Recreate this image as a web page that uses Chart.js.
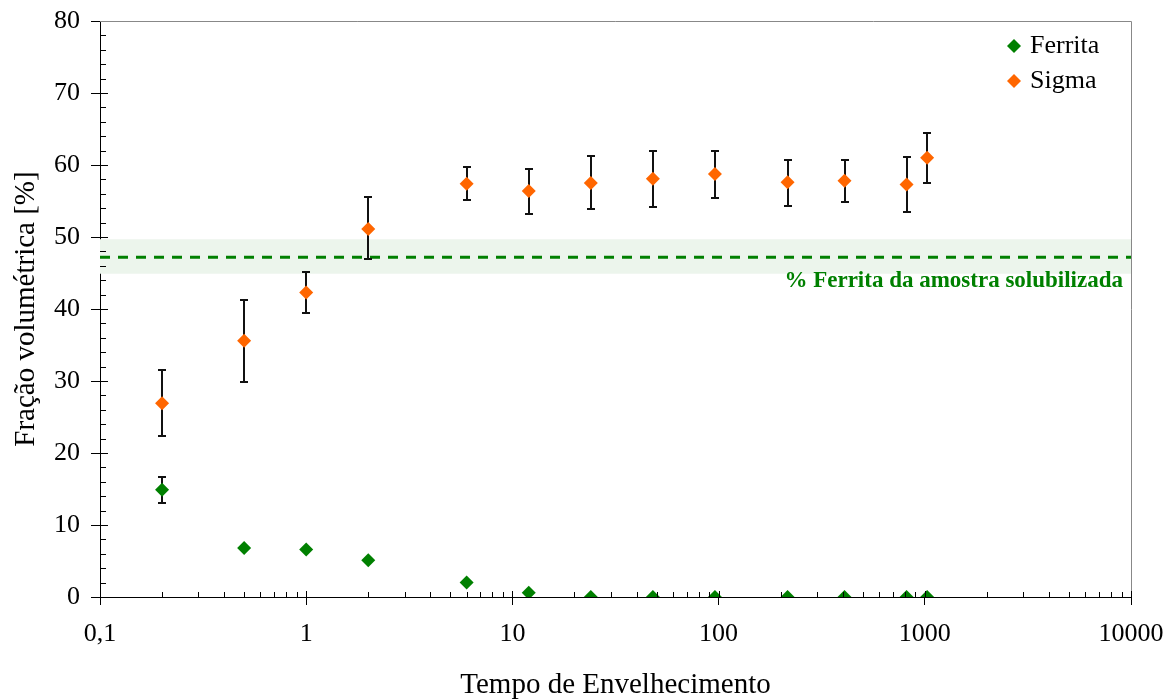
<!DOCTYPE html>
<html>
<head>
<meta charset="utf-8">
<script src="https://cdn.jsdelivr.net/npm/chart.js@4.4.1/dist/chart.umd.min.js"></script>
<style>
	html, body { margin: 0; padding: 0; background: #fff; }
	.chart-box { position: relative; width: 1175px; height: 700px; }
</style>
</head>
<body>
<div class="chart-box"><canvas id="fases"></canvas></div>
<script>
// Aging times (h) of the samples
const times = [0.2, 0.5, 1, 2, 6, 12, 24, 48, 96, 216, 408, 816, 1026];

// Ferrite fraction [%] and its error bar limits
const ferrita = [14.9, 6.8, 6.6, 5.1, 2.0, 0.6, 0, 0, 0, 0, 0, 0, 0];
const ferritaHigh = [16.7, null, null, null, null, null, null, null, null, null, null, null, null];
const ferritaLow = [13.0, null, null, null, null, null, null, null, null, null, null, null, null];

// Sigma fraction [%] and its error bar limits
const sigma = [26.9, 35.6, 42.3, 51.1, 57.4, 56.4, 57.5, 58.1, 58.75, 57.6, 57.8, 57.3, 61.0];
const sigmaHigh = [31.5, 41.3, 45.2, 55.5, 59.7, 59.4, 61.25, 62.0, 61.9, 60.65, 60.7, 61.1, 64.5];
const sigmaLow = [22.3, 29.9, 39.5, 46.9, 55.1, 53.2, 53.85, 54.2, 55.4, 54.3, 54.9, 53.5, 57.5];

// Ferrite of the solution annealed sample (mean and band)
const refRange = [0.1, 10000];
const refFerrita = 47.2;
const refLow = 44.9;
const refHigh = 49.7;
const refLabel = '% Ferrita da amostra solubilizada';

// Axis ticks
const xTickValues = [0.1, 1, 10, 100, 1000, 10000];
const xTickLabels = ['0,1', '1', '10', '100', '1000', '10000'];

const serif = "'Liberation Serif', 'Times New Roman', serif";
const green = '#008000';
const orange = '#ff6600';

// Shorthand to turn two arrays into points
const pts = (xs, ys) => xs.map((x, i) => ({ x: x, y: ys[i] }));
const flat = (v) => refRange.map((x) => ({ x: x, y: v }));

// Error bars, drawn just before the series they belong to
const errorBars = {
	id: 'errorBars',
	beforeDatasetDraw(chart, args) {
		let bars = null;
		if (args.index === 0) bars = [ferritaLow, ferritaHigh];
		if (args.index === 1) bars = [sigmaLow, sigmaHigh];
		if (!bars) return;
		const ctx = chart.ctx;
		const sx = chart.scales.x;
		const sy = chart.scales.y;
		ctx.save();
		ctx.strokeStyle = '#111';
		ctx.lineWidth = 2;
		times.forEach((t, i) => {
			if (bars[0][i] === null) return;
			const px = Math.round(sx.getPixelForValue(t));
			const lo = Math.round(sy.getPixelForValue(bars[0][i]));
			const hi = Math.round(sy.getPixelForValue(bars[1][i]));
			ctx.beginPath();
			ctx.moveTo(px, lo);
			ctx.lineTo(px, hi);
			ctx.moveTo(px - 4, lo);
			ctx.lineTo(px + 4, lo);
			ctx.moveTo(px - 4, hi);
			ctx.lineTo(px + 4, hi);
			ctx.stroke();
		});
		ctx.restore();
	}
};

// Inner tick marks, frame, legend and the reference label
const decorations = {
	id: 'decorations',
	afterDraw(chart) {
		const ctx = chart.ctx;
		const a = chart.chartArea;
		const sx = chart.scales.x;
		const sy = chart.scales.y;
		ctx.save();

		// grey frame on top and right
		ctx.strokeStyle = '#888';
		ctx.lineWidth = 1;
		ctx.beginPath();
		ctx.moveTo(a.left, a.top + 0.5);
		ctx.lineTo(a.right + 0.5, a.top + 0.5);
		ctx.lineTo(a.right + 0.5, a.bottom);
		ctx.stroke();

		// tick marks inside the plot
		ctx.strokeStyle = '#000';
		ctx.beginPath();
		for (let v = 2; v < 80; v += 2) {
			const py = Math.round(sy.getPixelForValue(v)) + 0.5;
			ctx.moveTo(a.left, py);
			ctx.lineTo(a.left + (v % 10 === 0 ? 8 : 6), py);
		}
		xTickValues.forEach((d) => {
			const steps = d === 10000 ? 1 : 9;
			for (let m = 1; m <= steps; m++) {
				const px = Math.round(sx.getPixelForValue(d * m)) + 0.5;
				ctx.moveTo(px, a.bottom);
				ctx.lineTo(px, a.bottom - (m === 1 ? 6 : 5));
			}
		});
		ctx.stroke();

		// legend
		ctx.font = '26px ' + serif;
		ctx.textAlign = 'left';
		ctx.textBaseline = 'middle';
		[0, 1].forEach((i) => {
			const ds = chart.data.datasets[i];
			const y = a.top + 25 + i * 35;
			ctx.fillStyle = ds.backgroundColor;
			Chart.helpers.drawPoint(ctx, { pointStyle: 'rectRot', radius: 7, borderWidth: 0, rotation: 0 }, a.right - 117, y);
			ctx.fillStyle = '#000';
			ctx.fillText(ds.label, a.right - 101, y);
		});

		// reference label
		ctx.font = 'bold 23px ' + serif;
		ctx.fillStyle = green;
		ctx.textAlign = 'right';
		ctx.fillText(refLabel, a.right - 8, sy.getPixelForValue(refFerrita) + 24);
		ctx.restore();
	}
};

new Chart(document.getElementById('fases'), {
	type: 'scatter',
	data: {
		datasets: [
			{
				label: 'Ferrita',
				data: pts(times, ferrita),
				backgroundColor: green,
				borderColor: green,
				pointStyle: 'rectRot',
				pointRadius: 7,
				pointBorderWidth: 0
			},
			{
				label: 'Sigma',
				data: pts(times, sigma),
				backgroundColor: orange,
				borderColor: orange,
				pointStyle: 'rectRot',
				pointRadius: 7,
				pointBorderWidth: 0
			},
			{
				type: 'line',
				label: 'ref',
				data: flat(refFerrita),
				borderColor: green,
				borderWidth: 3,
				borderDash: [10, 8],
				pointRadius: 0,
				fill: false
			},
			{
				type: 'line',
				label: 'refLow',
				data: flat(refLow),
				borderWidth: 0,
				borderColor: 'rgba(0,0,0,0)',
				pointRadius: 0,
				fill: false
			},
			{
				type: 'line',
				label: 'refHigh',
				data: flat(refHigh),
				borderWidth: 0,
				borderColor: 'rgba(0,0,0,0)',
				backgroundColor: '#ecf5ec',
				pointRadius: 0,
				fill: '-1'
			}
		]
	},
	options: {
		responsive: true,
		maintainAspectRatio: false,
		animation: false,
		layout: {
			padding: { top: 21, right: 44, left: 0, bottom: 0 }
		},
		plugins: {
			legend: { display: false },
			tooltip: { enabled: false }
		},
		scales: {
			x: {
				type: 'logarithmic',
				min: 0.1,
				max: 10000,
				afterBuildTicks: (scale) => {
					scale.ticks = xTickValues.map((v) => ({ value: v }));
				},
				afterFit: (scale) => {
					// fixed size, no extra room for the end labels
					scale.height = 103;
					scale.paddingLeft = 0;
					scale.paddingRight = 0;
				},
				ticks: {
					font: { family: serif, size: 26 },
					color: '#000',
					padding: 14,
					maxRotation: 0,
					autoSkip: false,
					callback: (v) => xTickLabels[xTickValues.indexOf(v)]
				},
				grid: { drawOnChartArea: false, tickLength: 8, color: '#000' },
				border: { color: '#000', width: 1 },
				title: {
					display: true,
					text: 'Tempo de Envelhecimento',
					color: '#000',
					font: { family: serif, size: 29, lineHeight: 1 },
					padding: { top: 0, bottom: 0 }
				}
			},
			y: {
				min: 0,
				max: 80,
				afterFit: (scale) => {
					scale.width = 100;
					scale.paddingTop = 0;
					scale.paddingBottom = 0;
				},
				ticks: {
					stepSize: 10,
					font: { family: serif, size: 26 },
					color: '#000',
					padding: 11
				},
				grid: { drawOnChartArea: false, tickLength: 9, color: '#000' },
				border: { color: '#000', width: 1 },
				title: {
					display: true,
					text: 'Fração volumétrica [%]',
					color: '#000',
					font: { family: serif, size: 29, lineHeight: 1 },
					padding: { top: 12, bottom: 0 }
				}
			}
		}
	},
	plugins: [errorBars, decorations]
});
</script>
</body>
</html>
